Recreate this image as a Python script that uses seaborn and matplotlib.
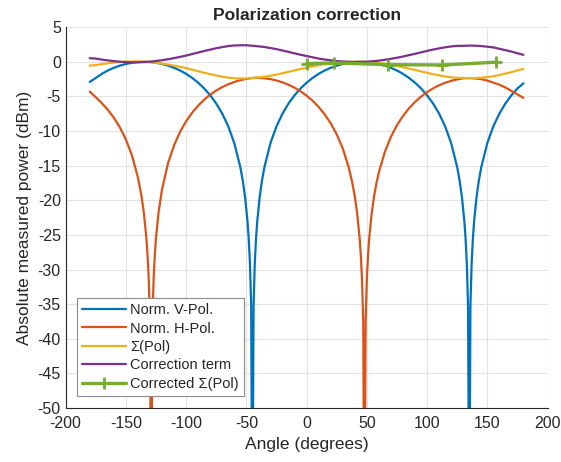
import matplotlib
matplotlib.use("Agg")
import matplotlib.pyplot as plt
import seaborn as sns

# Norm. V-Pol. (dB)
angle_v = [-180, -175, -170, -165, -160, -155, -150, -145, -140, -135, -130, -125,
           -120, -115, -110, -105, -100, -95, -90, -85, -80, -75, -70, -65, -60,
           -55, -53, -51, -49, -48, -47, -46, -45, -44, -43, -42, -41, -39, -37, -35,
           -30, -25, -20, -15, -10, -5, 0, 5, 10, 15, 20, 25, 30, 35, 40, 45,
           50, 55, 60, 65, 70, 75, 80, 85, 90, 95, 100, 105, 110, 115, 120,
           125, 127, 129, 131, 132, 133, 134, 135, 136, 137, 138, 139, 141, 143, 145,
           150, 155, 160, 165, 170, 175, 180]
v_pol = [-2.9, -2.32, -1.73, -1.25, -0.86, -0.54, -0.30, -0.13, -0.03, 0.0, -0.03, -0.13,
         -0.30, -0.54, -0.86, -1.25, -1.73, -2.32, -3.01, -3.84, -4.83, -6.02, -7.48, -9.32, -11.74,
         -15.21, -17.13, -19.62, -23.13, -25.63, -29.15, -35.16, -70, -35.16, -29.15, -25.63, -23.13, -19.62, -17.13, -15.21,
         -11.74, -9.32, -7.48, -6.02, -4.83, -3.84, -3.01, -2.32, -1.73, -1.25, -0.86, -0.54, -0.30, -0.13, -0.03, 0.0,
         -0.03, -0.13, -0.30, -0.54, -0.86, -1.25, -1.73, -2.32, -3.01, -3.84, -4.83, -6.02, -7.48, -9.32, -11.74,
         -15.21, -17.13, -19.62, -23.13, -25.63, -29.15, -35.16, -70, -35.16, -29.15, -25.63, -23.13, -19.62, -17.13, -15.21,
         -11.74, -9.32, -7.48, -6.02, -4.83, -3.84, -3.1]

# Norm. H-Pol. (dB)
angle_h = [-180, -175, -170, -165, -160, -155, -150, -145, -140,
           -137, -135, -133, -132, -131, -130, -129, -128, -127, -126, -125, -123,
           -120, -115, -110, -105, -100, -95, -90, -85, -80, -75, -70, -65, -60, -55, -50, -45,
           -40, -35, -30, -25, -20, -15, -10, -5, 0, 5, 10, 15, 20, 25, 30, 35,
           38, 40, 42, 44, 45, 46, 47, 48, 49, 50, 51, 52, 54, 56, 58,
           60, 65, 70, 75, 80, 85, 90, 95, 100, 105, 110, 115, 120, 125, 130,
           135, 140, 145, 150, 155, 160, 165, 170, 175, 180]
h_pol = [-4.3, -5.1, -5.96, -6.92, -8.06, -9.46, -11.21, -13.49, -16.69,
         -19.43, -21.92, -25.43, -27.93, -31.45, -37.46, -70, -37.46, -31.45, -27.93, -25.43, -21.92,
         -18.41, -14.63, -12.05, -10.11, -8.59, -7.35, -6.32, -5.46, -4.74, -4.14, -3.64, -3.23, -2.90, -2.64, -2.46, -2.33,
         -2.30, -2.37, -2.49, -2.69, -2.96, -3.30, -3.73, -4.25, -4.88, -5.62, -6.51, -7.58, -8.87, -10.46, -12.50, -15.26,
         -17.51, -19.43, -21.92, -25.43, -27.93, -31.45, -37.46, -70, -37.46, -31.45, -27.93, -25.43, -21.92, -19.43, -17.51,
         -15.94, -12.98, -10.83, -9.16, -7.82, -6.71, -5.79, -5.02, -4.37, -3.83, -3.38, -3.02, -2.74, -2.53, -2.38,
         -2.35, -2.4, -2.5, -2.7, -3.0, -3.3, -3.7, -4.2, -4.7, -5.2]

# Sum of polarizations and correction term, 5 degree steps
angle = list(range(-180, 181, 5))
sum_pol = [-0.53, -0.48, -0.33, -0.21, -0.11, -0.02, 0.04, 0.07, 0.06, 0.03,
           -0.03, -0.12, -0.24, -0.38, -0.54, -0.72, -0.91, -1.13, -1.35, -1.57,
           -1.77, -1.97, -2.13, -2.28, -2.37, -2.40, -2.40, -2.33, -2.24, -2.15,
           -2.00, -1.84, -1.64, -1.44, -1.23, -1.03, -0.84, -0.66, -0.48, -0.34,
           -0.22, -0.12, -0.05, 0.00, 0.02, 0.01, -0.03, -0.09, -0.18, -0.30,
           -0.44, -0.60, -0.77, -0.97, -1.17, -1.38, -1.58, -1.78, -1.95, -2.10,
           -2.23, -2.31, -2.32, -2.35, -2.34, -2.28, -2.19, -2.09, -1.89, -1.69,
           -1.49, -1.24, -1.01]
correction = [0.53, 0.48, 0.33, 0.21, 0.11, 0.02, -0.04, -0.07, -0.06, -0.03,
              0.03, 0.12, 0.24, 0.38, 0.54, 0.72, 0.91, 1.13, 1.35, 1.57,
              1.77, 1.97, 2.13, 2.28, 2.37, 2.40, 2.40, 2.33, 2.24, 2.15,
              2.00, 1.84, 1.64, 1.44, 1.23, 1.03, 0.84, 0.66, 0.48, 0.34,
              0.22, 0.12, 0.05, 0.00, -0.02, -0.01, 0.03, 0.09, 0.18, 0.30,
              0.44, 0.60, 0.77, 0.97, 1.17, 1.38, 1.58, 1.78, 1.95, 2.10,
              2.23, 2.31, 2.32, 2.35, 2.34, 2.28, 2.19, 2.09, 1.89, 1.69,
              1.49, 1.24, 1.01]

# Corrected sum
angle_corr = [0, 22.5, 67.5, 112.5, 157.5]
corrected = [-0.25, -0.15, -0.4, -0.45, -0.05]

sns.set_style("whitegrid")
plt.rcParams['font.family'] = ['Liberation Sans', 'DejaVu Sans']
plt.rcParams['axes.unicode_minus'] = False
plt.rcParams['xtick.direction'] = 'in'
plt.rcParams['ytick.direction'] = 'in'

fig = plt.figure(figsize=(5.61, 4.62), dpi=100)
ax = fig.add_axes([0.117, 0.117, 0.859, 0.824])

lw = 1.6
sns.lineplot(x=angle_v, y=v_pol, color='#0072BD', lw=lw, ax=ax, label='Norm. V-Pol.')
sns.lineplot(x=angle_h, y=h_pol, color='#D95319', lw=lw, ax=ax, label='Norm. H-Pol.')
sns.lineplot(x=angle, y=sum_pol, color='#EDB120', lw=lw, ax=ax, label='Σ(Pol)')
sns.lineplot(x=angle, y=correction, color='#7E2F8E', lw=lw, ax=ax, label='Correction term')
sns.lineplot(x=angle_corr, y=corrected, color='#77AC30', lw=2.4, marker='+',
             markersize=9, mew=2, mec='#77AC30', ax=ax, label='Corrected Σ(Pol)')

ax.set_xlim(-200, 200)
ax.set_ylim(-50, 5)
ax.set_xticks(range(-200, 201, 50))
ax.set_yticks(range(-50, 6, 5))
ax.grid(True, color='#e3e3e3', lw=0.8)
for s in ['top', 'right']:
    ax.spines[s].set_visible(False)
for s in ['left', 'bottom']:
    ax.spines[s].set_color('#262626')
    ax.spines[s].set_linewidth(0.8)
ax.tick_params(colors='#262626', labelsize=11.5, length=4, width=0.8,
               top=False, right=False)
ax.tick_params(axis='x', pad=6)

ax.set_title('Polarization correction', fontsize=12.5, fontweight='bold', pad=5)
ax.set_xlabel('Angle (degrees)', fontsize=12.5, color='#262626')
ax.set_ylabel('Absolute measured power (dBm)', fontsize=12.5, color='#262626')

leg = ax.legend(loc='lower left', bbox_to_anchor=(0.023, 0.032), borderaxespad=0,
                fontsize=10.5, fancybox=False, framealpha=1, edgecolor='#8c8c8c',
                handlelength=3.0, labelspacing=0.3, borderpad=0.35, handletextpad=0.3)
leg.get_frame().set_linewidth(0.8)

fig.savefig('out.png', dpi=100)
